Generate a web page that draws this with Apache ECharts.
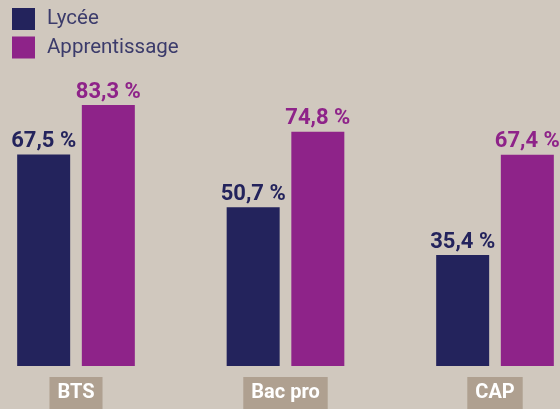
<!DOCTYPE html>
<html>
<head>
<meta charset="utf-8">
<script src="https://cdn.jsdelivr.net/npm/echarts@6/dist/echarts.min.js"></script>
<style>
html,body{margin:0;padding:0;background:#d0c8be;}
#c{width:560px;height:409px;}
</style>
</head>
<body>
<div id="c"></div>
<script>
const categories = ['BTS', 'Bac pro', 'CAP'];
const lycee = [67.5, 50.7, 35.4];
const apprentissage = [83.3, 74.8, 67.4];
const seriesNames = ['Lycée', 'Apprentissage'];

const fmt = p => p.value.toFixed(1).replace('.', ',') + ' %';
const chart = echarts.init(document.getElementById('c'), null, {renderer: 'canvas'});
chart.setOption({
  backgroundColor: '#d0c8be',
  animation: false,
  textStyle: {fontFamily: 'Roboto'},
  legend: {
    orient: 'vertical', left: 12, top: 8, padding: 0,
    itemWidth: 23, itemHeight: 22, itemGap: 6.5,
    icon: 'rect',
    textStyle: {fontSize: 20.5, color: '#3b3b6b', fontFamily: 'Roboto', padding: [0, 0, 0, 7]},
    data: seriesNames
  },
  grid: {left: 76, right: 65, top: 52.7, bottom: 42, containLabel: false},
  xAxis: {
    type: 'category', data: categories, boundaryGap: false,
    axisLine: {show: false}, axisTick: {show: false},
    axisLabel: {
      margin: 11, color: '#ffffff', fontWeight: 'bold', fontSize: 20,
      fontFamily: 'Roboto', backgroundColor: '#afa090', padding: [6, 8, 6, 8]
    }
  },
  yAxis: {type: 'value', min: 0, max: 100, show: false, splitLine: {show: false}},
  series: [
    {
      name: seriesNames[0], type: 'bar', data: lycee, barWidth: 53, barGap: '22%',
      itemStyle: {color: '#23235c'},
      label: {show: true, position: 'top', distance: 2, formatter: fmt,
        color: '#23235c', fontWeight: 'bold', fontSize: 22, fontFamily: 'Roboto'}
    },
    {
      name: seriesNames[1], type: 'bar', data: apprentissage, barWidth: 53, barGap: '22%',
      itemStyle: {color: '#8e2389'},
      label: {show: true, position: 'top', distance: 2, formatter: fmt,
        color: '#8e2389', fontWeight: 'bold', fontSize: 22, fontFamily: 'Roboto'}
    }
  ]
});
</script>
</body>
</html>
